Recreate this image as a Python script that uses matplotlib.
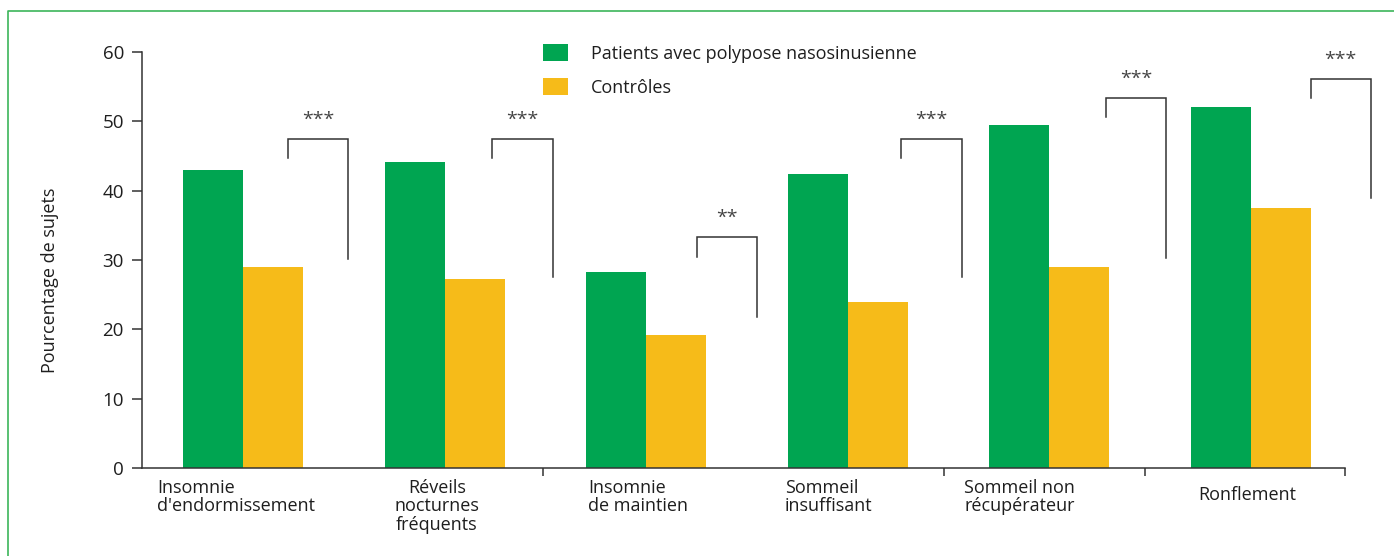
import matplotlib.pyplot as plt
import numpy as np

# Données
categories = ["Insomnie\nd'endormissement", "Réveils\nnocturnes\nfréquents",
              "Insomnie\nde maintien", "Sommeil\ninsuffisant",
              "Sommeil non\nrécupérateur", "Ronflement"]
patients = [43.0, 44.2, 28.2, 42.4, 49.4, 52.1]
controles = [29.0, 27.2, 19.2, 24.0, 29.0, 37.5]
signif = ["***", "***", "**", "***", "***", "***"]
bracket_top = [47.5, 47.5, 33.3, 47.5, 53.4, 56.1]
bracket_right_bottom = [30.1, 27.5, 21.8, 27.5, 30.3, 38.9]

green = '#00a551'
yellow = '#f6bb19'
dark = '#333333'

plt.rcParams['font.family'] = ['Open Sans', 'DejaVu Sans']
plt.rcParams['font.size'] = 13

fig = plt.figure(figsize=(13.94, 5.56), dpi=100)
ax = fig.add_axes([142 / 1394, 88 / 556, 1203 / 1394, 416 / 556])

x = np.arange(len(categories)) * 1.005 + 0.005
w = 0.3
ax.bar(x - w / 2, patients, w, color=green, label='Patients avec polypose nasosinusienne')
ax.bar(x + w / 2, controles, w, color=yellow, label='Contrôles')

ax.set_xlim(-0.5, 5.5)
ax.set_ylim(0, 60)
ax.set_yticks(range(0, 61, 10))
ax.set_xticks([1.5, 3.5, 4.5, 5.5])
ax.set_xticklabels([])
for s in ['top', 'right']:
    ax.spines[s].set_visible(False)
for s in ['left', 'bottom']:
    ax.spines[s].set_color(dark)
    ax.spines[s].set_linewidth(1.1)
ax.tick_params(axis='y', length=7, width=1.1, color=dark, labelcolor='#1e1e1e', pad=6, labelsize=13.5)
ax.tick_params(axis='x', length=6, width=1.1, color=dark)
ax.set_ylabel('Pourcentage de sujets', fontsize=13, color='#1e1e1e')
ax.yaxis.set_label_coords(-83 / 1203, 0.452)

# libellés des catégories
label_x = [-0.425, 0.97, 1.724, 2.707, 3.60, 5.01]
label_ha = ['left', 'center', 'left', 'left', 'left', 'center']
label_y = [-1.6, -1.6, -1.6, -1.6, -1.6, -2.6]
for lab, lx, ha, ly in zip(categories, label_x, label_ha, label_y):
    ax.text(lx, ly, lab, ha=ha, va='top', multialignment=ha, fontsize=13,
            color='#1e1e1e', linespacing=1.02, clip_on=False)

# crochets de significativité
for i, (txt, top, rb) in enumerate(zip(signif, bracket_top, bracket_right_bottom)):
    left = 0.228 + 1.02 * i
    right = left + 0.3
    ax.plot([left, left, right, right], [top - 2.8, top, top, rb],
            color=dark, lw=1.1, clip_on=False, solid_joinstyle='miter')
    ax.text((left + right) / 2, top + 2.0, txt, ha='center', va='baseline',
            fontsize=14, color='#444444', clip_on=False)

ax.legend(loc='upper left', bbox_to_anchor=(543 / 1394, 1 - 44 / 556),
          bbox_transform=fig.transFigure, frameon=False, borderpad=0,
          borderaxespad=0, handlelength=1.4, handleheight=1.1,
          handletextpad=1.25, labelspacing=0.85, fontsize=13,
          labelcolor='#1e1e1e')

# cadre vert (haut et gauche)
fig.add_artist(plt.Line2D([8 / 1394, 8 / 1394, 1], [0, 1 - 11 / 556, 1 - 11 / 556],
                          transform=fig.transFigure, color='#3cb55a', lw=1.2))

fig.savefig('out.png', dpi=100)
